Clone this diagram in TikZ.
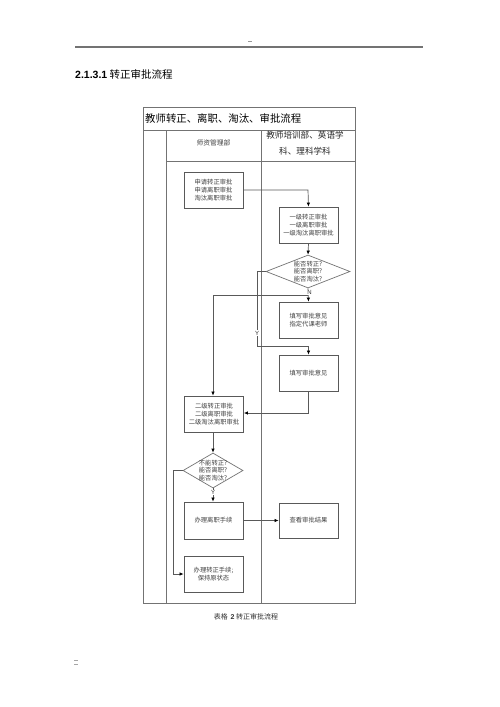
\documentclass[tikz,border=0pt]{standalone}
\usepackage{fontspec}
\setmainfont{Noto Sans CJK SC}
\newfontfamily\arialf{Liberation Sans}
\usetikzlibrary{shapes.geometric,arrows.meta}
\tikzset{
  tbl/.style={line width=1pt, draw=black!55},
  procbox/.style={draw=black!65, line width=0.8pt, rectangle, minimum width=59pt, minimum height=36pt, inner sep=0pt, align=center, text=black!75, font=\fontsize{6.3}{7.7}\selectfont},
  decis/.style={draw=black!55, line width=0.7pt, diamond, inner sep=0pt},
  dtext/.style={align=center, text=black!75, font=\fontsize{6.3}{7.7}\selectfont, inner sep=0pt},
  conn/.style={line width=0.7pt, draw=black!65, -{Latex[length=4pt,width=3.5pt,fill=black,color=black]}},
  lbl/.style={fill=white, inner sep=0.5pt, font=\arialf\fontsize{6}{6}\selectfont, text=black!80},
}
\begin{document}
\begin{tikzpicture}[x=1pt,y=-1pt]
\useasboundingbox (0,0) rectangle (500,707);
\fill[white] (0,0) rectangle (500,707);
% page header
\draw[line width=1.3pt, draw=black!55] (75,47) -- (423,47);
\draw[line width=0.4pt, draw=black!40] (248,41) -- (252,41);
\node[anchor=west, inner sep=0pt] (head) at (75,74) {{\arialf\fontsize{10.5}{12}\selectfont\bfseries 2.1.3.1}\fontsize{10.5}{12}\selectfont\ 转正审批流程};
% table
\draw[tbl] (143,107) rectangle (355,603);
\draw[tbl] (143,130) -- (355,130);
\draw[tbl] (166,130) -- (166,603);
\draw[tbl] (261,130) -- (261,603);
\draw[tbl] (166,161) -- (355,161);
\node[anchor=west, inner sep=0pt, font=\fontsize{10.4}{12}\selectfont] (ttl) at (145,118.5) {教师转正、离职、淘汰、审批流程};
\node[inner sep=0pt, text=black!75, font=\fontsize{6.8}{8}\selectfont] (hA) at (213.5,143) {师资管理部};
\node[inner sep=0pt, align=center, text=black!85, font=\fontsize{8.6}{16.5}\selectfont] (hB) at (305,143) {教师培训部、英语学\\科、理科学科};
% boxes
\node[procbox] (b1) at (213.5,190) {申请转正审批\\申请离职审批\\淘汰离职审批};
\node[procbox] (b2) at (308.5,225) {一级转正审批\\一级离职审批\\一级淘汰离职审批};
\node[decis, minimum width=84pt, minimum height=33pt] (d1) at (308,271.5) {};
\node[dtext] (d1t) at (d1.center) {能否转正?\\能否离职?\\能否淘汰?};
\node[procbox] (b3) at (308.5,320) {填写审批意见\\指定代课老师};
\node[procbox] (b4) at (308.5,373) {填写审批意见};
\node[procbox] (b5) at (214,414) {二级转正审批\\二级离职审批\\二级淘汰离职审批};
\node[decis, minimum width=60pt, minimum height=35pt] (d2) at (213,470.5) {};
\node[dtext] (d2t) at (d2.center) {不能转正?\\能否离职?\\能否淘汰?};
\node[procbox, minimum height=37pt] (b6) at (213.5,520.5) {办理离职手续};
\node[procbox, minimum height=35pt] (b8) at (308.5,520.5) {查看审批结果};
\node[procbox] (b7) at (213.5,574) {办理转正手续;\\保持原状态};
% connectors
\coordinate (c1) at (308,190);
\draw[conn] (b1.east) -- (c1) -- (b2.north);
\draw[conn] (b2.south) -- (d1.north);
\draw[conn] (d1.south) -- (b3.north);
\node[lbl] (nlab) at (309.5,292.5) {N};
\coordinate (c2) at (308,295);
\coordinate (c3) at (213,295);
\draw[conn] (c2) -- (c3) -- (b5.north -| c3);
\coordinate (c4) at (257,271.5);
\coordinate (c5) at (257,346);
\coordinate (c6) at (308.5,346);
\draw[conn] (d1.west) -- (c4) -- (c5) -- (c6) -- (b4.north);
\node[lbl] (ylab1) at (257,333) {Y};
\coordinate (c7) at (308.5,413);
\draw[conn] (b4.south) -- (c7) -- (b5.east |- c7);
\draw[conn] (b5.south -| d2.north) -- (d2.north);
\coordinate (c8) at (173,470.5);
\coordinate (c9) at (173,574);
\draw[conn] (d2.west) -- (c8) -- (c9) -- (b7.west);
\draw[conn] (d2.south) -- (b6.north -| d2.south);
\node[lbl] (ylab2) at (213,492.5) {Y};
\draw[conn] (b6.east) -- (b8.west);
% caption
\node[inner sep=0pt, text=black!80, font=\fontsize{7}{8}\selectfont] (cap) at (246,617) {表格 \,{\arialf\bfseries 2} 转正审批流程};
% footer marks
\draw[line width=0.4pt, draw=black!35] (74,660) -- (78,660);
\draw[line width=0.4pt, draw=black!35] (74,664) -- (78,664);
\end{tikzpicture}
\end{document}
